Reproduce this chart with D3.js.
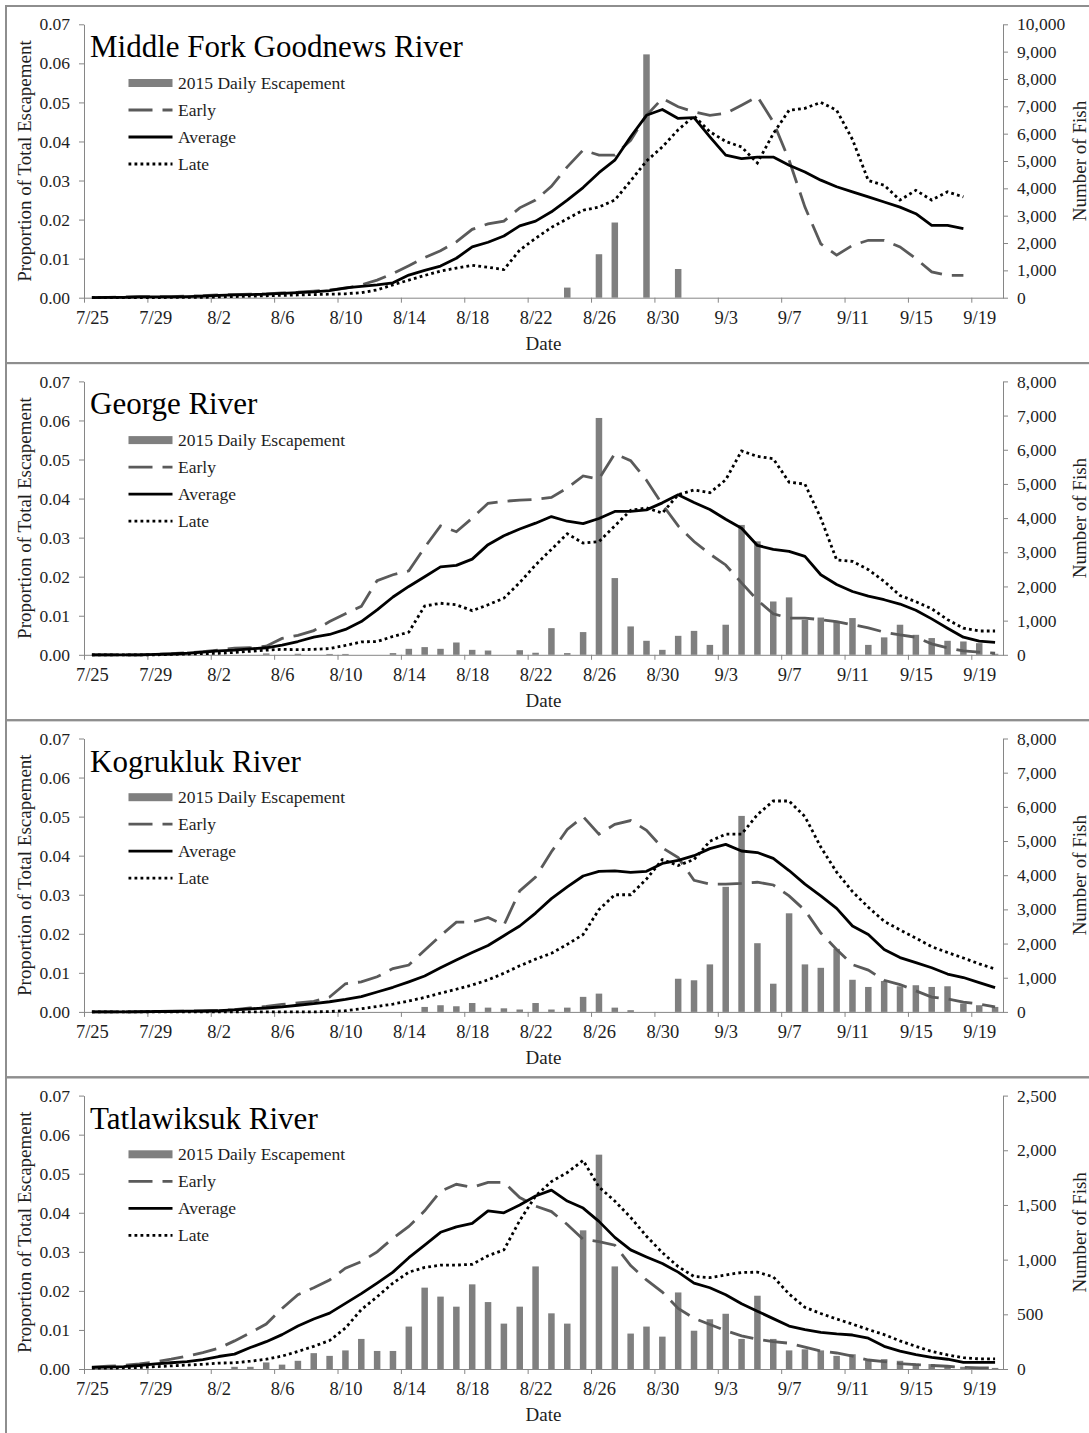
<!DOCTYPE html>
<html>
<head>
<meta charset="utf-8">
<script src="https://cdn.jsdelivr.net/npm/d3@7"></script>
<style>
  body { margin: 0; background: #fff; }
  svg text { font-family: "Liberation Serif", "Times New Roman", serif; }
</style>
</head>
<body>
<svg id="chart" width="1089" height="1433"></svg>
<script>
// Dates run from 7/25 (index 0) to 9/20 (index 57); one value per day
const firstDay = "7/25/2015";
const dayCount = 58;
const tickLabels = ["7/25", "7/29", "8/2", "8/6", "8/10", "8/14", "8/18", "8/22", "8/26", "8/30", "9/3", "9/7", "9/11", "9/15", "9/19"];
const propTicks = [0, 0.01, 0.02, 0.03, 0.04, 0.05, 0.06, 0.07];

const riverNames = ["Middle Fork Goodnews River", "George River", "Kogrukluk River", "Tatlawiksuk River"];
const fishMax = [10000, 8000, 8000, 2500];
const fishStep = [1000, 1000, 1000, 500];

// Middle Fork Goodnews River (ends 9/18)
const mfgEarly = [0, 0.0001, 0.0002, 0.0003, 0.0003, 0.0003, 0.0004, 0.0005, 0.0007, 0.0008, 0.0009, 0.001, 0.0012, 0.0014, 0.0017, 0.002,
  0.0024, 0.0033, 0.0045, 0.0062, 0.0082, 0.0103, 0.012, 0.0143, 0.0175, 0.0189, 0.0196, 0.023,
  0.025, 0.0285, 0.0335, 0.0378, 0.0365, 0.0365, 0.0403, 0.0467, 0.051, 0.0489, 0.0476, 0.0467, 0.0472, 0.0493, 0.0515, 0.045,
  0.0352, 0.0232, 0.0138, 0.0109, 0.0134, 0.0147, 0.0147, 0.013, 0.01, 0.0066, 0.0057, 0.0057];
const mfgAverage = [0, 0.0001, 0.0001, 0.0002, 0.0002, 0.0002, 0.0003, 0.0004, 0.0006, 0.0007, 0.0008, 0.0009, 0.0011, 0.0013, 0.0015, 0.0018,
  0.0025, 0.0029, 0.0033, 0.0038, 0.0058, 0.007, 0.0081, 0.0101, 0.013, 0.0142, 0.0158, 0.0184,
  0.0196, 0.022, 0.025, 0.0282, 0.032, 0.0352, 0.0412, 0.0467, 0.0482, 0.0459, 0.0461, 0.0412, 0.0365, 0.0356, 0.036, 0.036,
  0.0339, 0.0322, 0.0301, 0.0284, 0.0271, 0.0258, 0.0245, 0.0232, 0.0215, 0.0185, 0.0185, 0.0177];
const mfgLate = [0, 0, 0, 0, 0, 0.0001, 0.0001, 0.0001, 0.0002, 0.0003, 0.0004, 0.0005, 0.0006, 0.0007, 0.0008, 0.0009,
  0.001, 0.0013, 0.002, 0.0033, 0.0045, 0.0057, 0.0068, 0.0076, 0.0083, 0.0078, 0.0072, 0.0122,
  0.0152, 0.018, 0.0202, 0.0224, 0.0232, 0.025, 0.0299, 0.035, 0.0386, 0.043, 0.0465, 0.0425, 0.04, 0.0386, 0.0345, 0.042,
  0.048, 0.0485, 0.05, 0.048, 0.0405, 0.03, 0.0288, 0.025, 0.0275, 0.025, 0.0271, 0.0258];
const mfgFish = [0, 0, 0, 0, 0, 0, 0, 0, 0, 0, 0, 0, 0, 0, 0, 0, 0, 0, 0, 0, 0, 0, 0, 0, 0, 0, 0, 0,
  0, 0, 370, 0, 1590, 2750, 0, 8900, 0, 1050, 0, 0, 0, 0, 0, 0, 0, 0, 0, 0, 0, 0, 0, 0, 0, 0, 0, 0];

// George River
const georgeEarly = [0, 0, 0, 0, 0.0001, 0.0003, 0.0005, 0.0008,
  0.0012, 0.0017, 0.0018, 0.0022, 0.0042, 0.005, 0.0062, 0.0085, 0.0105, 0.0124, 0.019, 0.0205, 0.0215, 0.0275, 0.033, 0.0315, 0.035, 0.0388, 0.0393, 0.0396,
  0.0398, 0.0403, 0.0427, 0.0458, 0.045, 0.0515, 0.0497, 0.0447, 0.0385, 0.033, 0.029, 0.0258, 0.023, 0.0184, 0.014, 0.0105,
  0.0094, 0.0094, 0.009, 0.0085, 0.0077, 0.0069, 0.0058, 0.0051, 0.0045, 0.0028, 0.0018, 0.001, 0.0007, 0.0004];
const georgeAverage = [0, 0, 0, 0, 0.0001, 0.0002, 0.0004, 0.0007,
  0.001, 0.0012, 0.0015, 0.0018, 0.0025, 0.0034, 0.0045, 0.0052, 0.0065, 0.0085, 0.0115, 0.0148, 0.0175, 0.02, 0.0225, 0.0229, 0.0245, 0.0282, 0.0305, 0.0322,
  0.0337, 0.0354, 0.0342, 0.0336, 0.0349, 0.0367, 0.0367, 0.0371, 0.0389, 0.041, 0.039, 0.0372, 0.0347, 0.0324, 0.028, 0.027,
  0.0265, 0.0252, 0.0205, 0.018, 0.0162, 0.015, 0.0141, 0.013, 0.0114, 0.0092, 0.0068, 0.0045, 0.0035, 0.0032];
const georgeLate = [0, 0, 0, 0, 0, 0.0001, 0.0002, 0.0003,
  0.0004, 0.0006, 0.0009, 0.0012, 0.0014, 0.0013, 0.0014, 0.0016, 0.0024, 0.0033, 0.0034, 0.0047, 0.0058, 0.0125, 0.0132, 0.0128, 0.0113, 0.0128, 0.0145, 0.0185,
  0.023, 0.027, 0.031, 0.0286, 0.029, 0.033, 0.037, 0.0376, 0.0363, 0.041, 0.0422, 0.0415, 0.0448, 0.0522, 0.0508, 0.0502,
  0.0442, 0.0437, 0.035, 0.0243, 0.0239, 0.0218, 0.0188, 0.0152, 0.0136, 0.0118, 0.009, 0.0068, 0.0061, 0.0061];
const georgeFish = [0, 0, 0, 0, 0, 0, 0, 0, 0, 0, 0, 40, 0, 30, 0, 25, 25, 0, 0, 50, 175, 225, 175, 360, 145, 125, 0, 135,
  60, 780, 50, 665, 6930, 2245, 830, 410, 145, 555, 700, 290, 880, 3800, 3320, 1560, 1680, 1025, 1090, 975, 1075, 290,
  510, 880, 585, 490, 410, 390, 340, 30];

// Kogrukluk River
const kogEarly = [0, 0, 0, 0.0001, 0.0001, 0.0002, 0.0002, 0.0003,
  0.0004, 0.0006, 0.001, 0.0014, 0.0019, 0.0023, 0.0027, 0.0038, 0.0072, 0.0077, 0.009, 0.0111, 0.012, 0.0158, 0.0195, 0.023, 0.023, 0.0242, 0.0222, 0.031,
  0.0345, 0.041, 0.0467, 0.05, 0.0455, 0.048, 0.049, 0.0465, 0.042, 0.0395, 0.0337, 0.0327, 0.0327, 0.0329, 0.0332, 0.0325,
  0.0297, 0.026, 0.0202, 0.016, 0.0121, 0.0107, 0.0081, 0.007, 0.0054, 0.0038, 0.0033, 0.0025, 0.002, 0.0013];
const kogAverage = [0, 0, 0, 0, 0.0001, 0.0001, 0.0002, 0.0002,
  0.0003, 0.0005, 0.0008, 0.001, 0.0013, 0.0017, 0.0021, 0.0026, 0.0032, 0.0039, 0.0051, 0.0063, 0.0077, 0.0092, 0.0113, 0.0133, 0.0152, 0.017, 0.0195, 0.022,
  0.0253, 0.029, 0.032, 0.0348, 0.036, 0.0361, 0.0357, 0.036, 0.038, 0.0388, 0.04, 0.0418, 0.0429, 0.0412, 0.0408, 0.0393,
  0.0362, 0.0327, 0.0297, 0.0265, 0.022, 0.0198, 0.016, 0.0139, 0.0126, 0.0113, 0.0097, 0.0088, 0.0075, 0.0062];
const kogLate = [0, 0, 0, 0, 0, 0, 0, 0, 0, 0, 0, 0, 0, 0, 0, 0.0001,
  0.0003, 0.0008, 0.0014, 0.002, 0.0028, 0.0037, 0.0048, 0.0058, 0.0069, 0.0082, 0.0099, 0.0118,
  0.0135, 0.015, 0.0173, 0.0198, 0.0262, 0.03, 0.03, 0.034, 0.039, 0.0375, 0.039, 0.0437, 0.0455, 0.0455, 0.0505, 0.054,
  0.054, 0.05, 0.0422, 0.0358, 0.0308, 0.0268, 0.0232, 0.021, 0.0189, 0.0167, 0.0152, 0.0138, 0.0123, 0.011];
const kogFish = [0, 0, 0, 0, 0, 0, 0, 0, 0, 0, 0, 0, 0, 0, 0, 0, 0, 0, 0, 0, 0, 145, 195, 165, 260, 125, 105, 70,
  260, 70, 125, 440, 535, 125, 50, 0, 0, 970, 925, 1390, 3660, 5735, 2010, 825, 2885, 1390, 1290, 1845, 940, 730,
  905, 750, 780, 730, 750, 245, 195, 145];

// Tatlawiksuk River
const tatEarly = [0.0005, 0.0007, 0.0009, 0.0013, 0.0018, 0.0025, 0.0033, 0.0042, 0.0053, 0.0072, 0.0093, 0.0115, 0.0155, 0.019,
  0.0208, 0.0228, 0.0258, 0.0275, 0.03, 0.0335, 0.0365, 0.0405, 0.0455, 0.0473, 0.0465, 0.0478, 0.0478, 0.0439,
  0.0417, 0.0403, 0.037, 0.0332, 0.0326, 0.0317, 0.0265, 0.0228, 0.0197, 0.0155, 0.013, 0.0114, 0.0098, 0.0085, 0.0076, 0.007,
  0.0066, 0.0056, 0.0046, 0.0041, 0.0033, 0.0023, 0.0019, 0.0014, 0.0011, 0.0009, 0.0007, 0.0004, 0.0003, 0.0003];
const tatAverage = [0.0004, 0.0005, 0.0006, 0.0009, 0.0013, 0.0016, 0.0019, 0.0024, 0.0032, 0.0038, 0.0055, 0.007, 0.0088, 0.011,
  0.0128, 0.0143, 0.0168, 0.0193, 0.022, 0.0248, 0.0285, 0.0317, 0.035, 0.0364, 0.0373, 0.0405, 0.04, 0.042,
  0.0443, 0.0458, 0.043, 0.0412, 0.0378, 0.0337, 0.0305, 0.0287, 0.027, 0.0248, 0.022, 0.0208, 0.019, 0.0167, 0.0148, 0.0129,
  0.011, 0.0101, 0.0094, 0.009, 0.0087, 0.0079, 0.0058, 0.0046, 0.0037, 0.003, 0.0025, 0.0017, 0.0017, 0.0017];
const tatLate = [0.0002, 0.0002, 0.0003, 0.0004, 0.0006, 0.0008, 0.001, 0.0012, 0.0015, 0.0016, 0.002, 0.0025, 0.0033, 0.0045,
  0.0058, 0.0073, 0.0105, 0.0152, 0.0185, 0.022, 0.0248, 0.026, 0.0266, 0.0266, 0.0268, 0.029, 0.0305, 0.038,
  0.0443, 0.048, 0.0503, 0.0534, 0.0466, 0.043, 0.0388, 0.034, 0.0298, 0.0262, 0.0237, 0.0234, 0.0241, 0.0247, 0.0248, 0.0236,
  0.0192, 0.0158, 0.0142, 0.0128, 0.0115, 0.0101, 0.0088, 0.0072, 0.0058, 0.0045, 0.0036, 0.0029, 0.0026, 0.0026];
const tatFish = [0, 0, 0, 0, 0, 0, 0, 0, 0, 20, 20, 60, 40, 75, 145, 120, 170, 275, 165, 165, 388, 744, 662, 570, 774, 612, 415, 570,
  938, 509, 415, 1268, 1960, 938, 324, 388, 296, 700, 350, 455, 505, 275, 670, 275, 170, 180, 170, 120, 135, 75,
  90, 75, 50, 45, 30, 20, 15, 10];

const panels = [
  { early: mfgEarly, average: mfgAverage, late: mfgLate, fish: mfgFish },
  { early: georgeEarly, average: georgeAverage, late: georgeLate, fish: georgeFish },
  { early: kogEarly, average: kogAverage, late: kogLate, fish: kogFish },
  { early: tatEarly, average: tatAverage, late: tatLate, fish: tatFish }
];

const serif = '"Liberation Serif", "Times New Roman", serif';
const axisGray = "#868686";
const textColor = "#1e1e1e";
const svg = d3.select("#chart");

const parseDay = d3.timeParse("%m/%d/%Y");
const start = parseDay(firstDay);
const x = d3.scaleTime()
    .domain([start, d3.timeDay.offset(start, dayCount)])
    .range([84, 1003]);
const dayW = x(d3.timeDay.offset(start, 1)) - x(start);
// each value sits in the middle of its day
const dayMid = i => d3.timeHour.offset(d3.timeDay.offset(start, i), 12);
const tickDates = tickLabels.map(t => parseDay(t + "/2015"));

const panelH = 357.1;

panels.forEach((p, k) => {
    const top = 6 + panelH * k;
    const y0 = top + 18.3;          // 0.07 line
    const y1 = y0 + 273.4;          // 0.00 line
    const g = svg.append("g");

    // panel frame
    g.append("rect")
        .attr("x", 6).attr("y", top)
        .attr("width", 1095).attr("height", panelH)
        .attr("fill", "none")
        .attr("stroke", "#8e8e8e")
        .attr("stroke-width", 2);

    const y = d3.scaleLinear().domain([0, 0.07]).range([y1, y0]);
    const yR = d3.scaleLinear().domain([0, fishMax[k]]).range([y1, y0]);

    // daily escapement bars (right axis)
    g.append("g").selectAll("rect")
        .data(p.fish.map((v, i) => ({ v, i })).filter(d => d.v > 0))
        .join("rect")
        .attr("x", d => x(dayMid(d.i)) - 3.25)
        .attr("width", 6.5)
        .attr("y", d => yR(d.v))
        .attr("height", d => y1 - yR(d.v))
        .attr("fill", "#7f7f7f");

    // axes
    const xAxis = d3.axisBottom(x)
        .tickValues(tickDates)
        .tickSizeInner(5).tickSizeOuter(0)
        .tickPadding(8)
        .tickFormat(d3.timeFormat("%-m/%-d"));
    const gx = g.append("g")
        .attr("transform", `translate(0,${y1})`)
        .call(xAxis);
    gx.selectAll(".tick text").attr("x", dayW / 2);

    const gl = g.append("g")
        .attr("transform", "translate(84,0)")
        .call(d3.axisLeft(y).tickValues(propTicks).tickSizeInner(5).tickSizeOuter(0)
            .tickPadding(9).tickFormat(d3.format(".2f")));

    const gr = g.append("g")
        .attr("transform", "translate(1003,0)")
        .call(d3.axisRight(yR).tickValues(d3.range(0, fishMax[k] + 1, fishStep[k]))
            .tickSizeInner(5).tickSizeOuter(0)
            .tickPadding(9).tickFormat(d3.format(",")));

    [gx, gl, gr].forEach(a => {
        a.attr("font-family", serif).attr("font-size", 17.5);
        a.select(".domain").attr("stroke", axisGray);
        a.selectAll(".tick line").attr("stroke", axisGray);
        a.selectAll(".tick text").attr("fill", textColor);
    });
    gx.attr("font-size", 18.5);

    // lines
    const line = d3.line()
        .x((d, i) => x(dayMid(i)))
        .y(d => y(d));

    g.append("path").datum(p.early)
        .attr("d", line).attr("fill", "none")
        .attr("stroke", "#5a5a5a").attr("stroke-width", 2.8)
        .attr("stroke-dasharray", "24,10");
    g.append("path").datum(p.average)
        .attr("d", line).attr("fill", "none")
        .attr("stroke", "#000").attr("stroke-width", 2.8)
        .attr("stroke-linejoin", "round");
    g.append("path").datum(p.late)
        .attr("d", line).attr("fill", "none")
        .attr("stroke", "#000").attr("stroke-width", 2.8)
        .attr("stroke-dasharray", "2.8,3.2");

    // river name
    g.append("text")
        .attr("x", 90).attr("y", y0 + 33)
        .attr("font-size", 31).attr("fill", "#000")
        .text(riverNames[k]);

    // legend
    const legendItems = [
        { label: "2015 Daily Escapement", type: "bar" },
        { label: "Early", type: "early" },
        { label: "Average", type: "average" },
        { label: "Late", type: "late" }
    ];
    legendItems.forEach((item, j) => {
        const cy = y0 + 58.7 + 27 * j;
        if (item.type === "bar") {
            g.append("rect").attr("x", 128.5).attr("y", cy - 4)
                .attr("width", 44).attr("height", 8).attr("fill", "#7f7f7f");
        } else {
            const ln = g.append("line")
                .attr("x1", 128.5).attr("x2", 172.5)
                .attr("y1", cy).attr("y2", cy)
                .attr("stroke-width", 2.8)
                .attr("stroke", item.type === "early" ? "#5a5a5a" : "#000");
            if (item.type === "early") ln.attr("stroke-dasharray", "24,10");
            if (item.type === "late") ln.attr("stroke-dasharray", "2.8,3.2");
        }
        g.append("text")
            .attr("x", 178).attr("y", cy + 6)
            .attr("font-size", 17.5).attr("fill", textColor)
            .text(item.label);
    });

    // axis titles
    g.append("text")
        .attr("transform", `translate(31,${(y0 + y1) / 2}) rotate(-90)`)
        .attr("text-anchor", "middle")
        .attr("font-size", 19).attr("fill", textColor)
        .text("Proportion of Total Escapement");
    g.append("text")
        .attr("transform", `translate(1086,${(y0 + y1) / 2}) rotate(-90)`)
        .attr("text-anchor", "middle")
        .attr("font-size", 19).attr("fill", textColor)
        .text("Number of Fish");
    g.append("text")
        .attr("x", (84 + 1003) / 2).attr("y", y1 + 52)
        .attr("text-anchor", "middle")
        .attr("font-size", 19).attr("fill", textColor)
        .text("Date");
});
</script>
</body>
</html>
